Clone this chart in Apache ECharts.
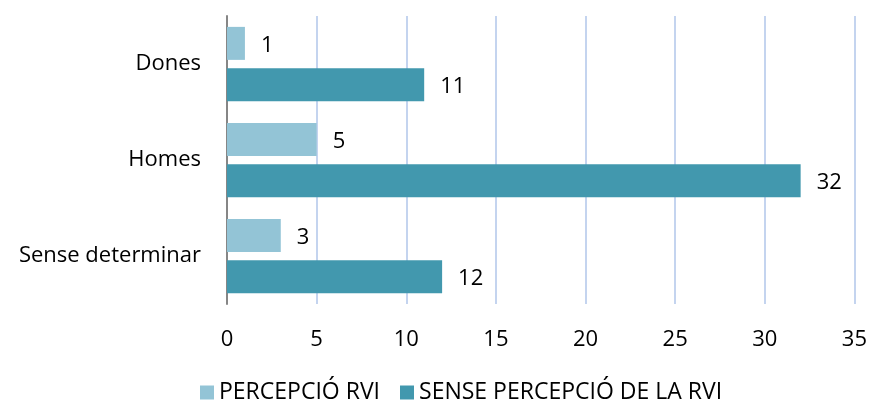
<html>
<head>
    <meta charset="utf-8">
    <title>Percepció RVI</title>
</head>
<body style="height: 100%; margin: 0">
<div id="container" style="width: 870px; height: 401px"></div>
<script src="https://cdn.jsdelivr.net/npm/echarts@6/dist/echarts.min.js"></script>
<script>
    // dades llegides del gràfic
    var categories = ['Dones', 'Homes', 'Sense determinar'];
    var seriesNames = ['PERCEPCIÓ RVI', 'SENSE PERCEPCIÓ DE LA RVI'];
    var percepcio = [1, 5, 3];
    var sensePercepcio = [11, 32, 12];

    var myChart = echarts.init(document.getElementById('container'));
    var font = '"Open Sans", "Liberation Sans", sans-serif';

    var option = {
        backgroundColor: '#fff',
        animation: false,
        grid: {left: 227, right: 14, top: 16, bottom: 97},
        legend: {
            left: 195,
            top: 376,
            itemWidth: 14,
            itemHeight: 14,
            itemGap: 20,
            itemTextGap: 7,
            icon: 'rect',
            data: seriesNames,
            textStyle: {fontFamily: font, fontSize: 23, color: '#000'}
        },
        xAxis: {
            type: 'value',
            min: 0,
            max: 35,
            interval: 5,
            axisLine: {show: false},
            axisTick: {show: false},
            splitLine: {lineStyle: {color: '#b0c6ea', width: 1.5}},
            axisLabel: {fontFamily: font, fontSize: 22, color: '#000', margin: 25}
        },
        yAxis: {
            type: 'category',
            inverse: true,
            data: categories,
            axisLine: {lineStyle: {color: '#868686', width: 2}},
            axisTick: {show: false},
            axisLabel: {fontFamily: font, fontSize: 22, color: '#000', margin: 26, padding: [6, 0, 0, 0]}
        },
        series: [
            {
                name: seriesNames[0],
                type: 'bar',
                data: percepcio,
                barWidth: 33,
                barGap: '25%',
                itemStyle: {color: '#93c4d6'},
                label: {show: true, position: 'right', distance: 16, offset: [0, 2], fontFamily: font, fontSize: 22, color: '#000'}
            },
            {
                name: seriesNames[1],
                type: 'bar',
                data: sensePercepcio,
                barWidth: 33,
                barGap: '25%',
                itemStyle: {color: '#4298ae'},
                label: {show: true, position: 'right', distance: 16, offset: [0, 2], fontFamily: font, fontSize: 22, color: '#000'}
            }
        ]
    };

    myChart.setOption(option);
</script>
</body>
</html>
